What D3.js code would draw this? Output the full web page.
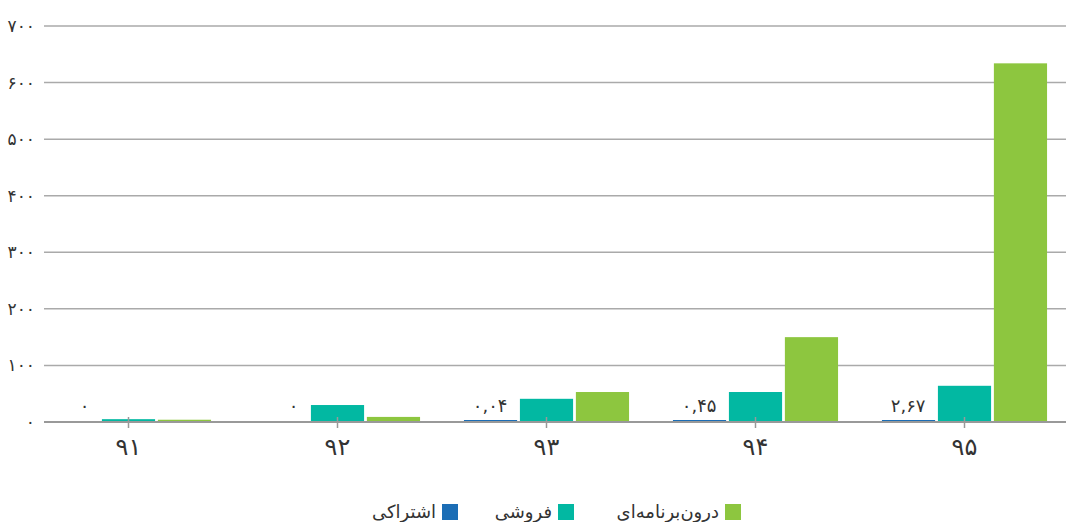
<!DOCTYPE html>
<html>
<head>
<meta charset="utf-8">
<script src="https://cdn.jsdelivr.net/npm/d3@7"></script>
<style>
  body { margin: 0; background: #fff; }
  text { font-family: "DejaVu Sans", "Noto Sans", sans-serif; fill: #333; }
</style>
</head>
<body>
<script>
// years (persian digits)
var years = ['۹۱', '۹۲', '۹۳', '۹۴', '۹۵'];
var seriesNames = ['اشتراکی', 'فروشی', 'درون‌برنامه‌ای'];
var subscription = [0, 0, 0.04, 0.45, 2.67];
var subscriptionLabels = ['۰', '۰', '۰,۰۴', '۰,۴۵', '۲,۶۷'];
var sales = [5, 30, 41, 53, 64];
var inApp = [4, 9, 53, 150, 634];
var yTicks = [0, 100, 200, 300, 400, 500, 600, 700];
var colors = ['#1b6db5', '#02b8a2', '#8dc63f'];

var toFa = function(n) {
    return String(n).replace(/\d/g, function(c) { return '۰۱۲۳۴۵۶۷۸۹'[+c]; });
};

var width = 1066, height = 522;

var svg = d3.select('body').append('svg')
    .attr('width', width)
    .attr('height', height);

var x = d3.scaleBand()
    .domain(years)
    .range([24, 1069])
    .paddingInner(0.21)
    .paddingOuter(0.105);

var xi = d3.scaleBand()
    .domain([0, 1, 2])
    .range([0, x.bandwidth()])
    .paddingInner(0.05);

var y = d3.scaleLinear()
    .domain([0, 700])
    .range([422, 26]);

// grid
svg.selectAll('line.grid')
    .data(yTicks.slice(1))
    .enter()
  .append('line')
    .attr('class', 'grid')
    .attr('x1', 44)
    .attr('x2', 1066)
    .attr('y1', d => y(d))
    .attr('y2', d => y(d))
    .attr('stroke', '#aaa')
    .attr('stroke-width', 1.5);

// y labels
svg.selectAll('text.ylab')
    .data(yTicks)
    .enter()
  .append('text')
    .attr('class', 'ylab')
    .attr('x', 35)
    .attr('y', d => y(d) + 6)
    .attr('text-anchor', 'end')
    .style('font-size', '17px')
    .text(d => toFa(d));

var series = [subscription, sales, inApp];

series.forEach(function(vals, si) {
    svg.selectAll('rect.s' + si)
        .data(vals)
        .enter()
      .append('rect')
        .attr('class', 's' + si)
        .attr('fill', colors[si])
        .attr('x', (d, i) => x(years[i]) + xi(si))
        .attr('width', xi.bandwidth())
        .attr('y', function(d) {
            if (d == 0) return y(0);
            return Math.min(y(d), y(0) - 2);
        })
        .attr('height', function(d) {
            if (d == 0) return 0;
            return Math.max(y(0) - y(d), 2);
        });
});

// baseline
svg.append('line')
    .attr('x1', 44)
    .attr('x2', 1066)
    .attr('y1', y(0))
    .attr('y2', y(0))
    .attr('stroke', '#999')
    .attr('stroke-width', 2);

// x ticks
svg.selectAll('line.xtick')
    .data(years)
    .enter()
  .append('line')
    .attr('class', 'xtick')
    .attr('x1', d => x(d) + x.bandwidth() / 2)
    .attr('x2', d => x(d) + x.bandwidth() / 2)
    .attr('y1', 417)
    .attr('y2', 428)
    .attr('stroke', '#999')
    .attr('stroke-width', 1.5);

svg.selectAll('text.xlab')
    .data(years)
    .enter()
  .append('text')
    .attr('class', 'xlab')
    .attr('x', d => x(d) + x.bandwidth() / 2)
    .attr('y', 455)
    .attr('text-anchor', 'middle')
    .style('font-size', '24px')
    .text(d => d);

// value labels for subscription bars
svg.selectAll('text.vlab')
    .data(subscriptionLabels)
    .enter()
  .append('text')
    .attr('class', 'vlab')
    .attr('x', (d, i) => x(years[i]) + xi(0) + xi.bandwidth() / 2 + 17)
    .attr('y', 412)
    .attr('text-anchor', 'end')
    .style('font-size', '18px')
    .text(d => d);

// legend (right to left)
var legendX = [741, 574, 458];
var legend = svg.selectAll('g.legend')
    .data([2, 1, 0])
    .enter()
  .append('g')
    .attr('class', 'legend')
    .attr('transform', (d, i) => 'translate(' + legendX[i] + ',0)');

legend.append('rect')
    .attr('x', -16)
    .attr('y', 504)
    .attr('width', 16)
    .attr('height', 16)
    .attr('fill', d => colors[d]);

legend.append('text')
    .attr('x', -22)
    .attr('y', 518)
    .attr('text-anchor', 'end')
    .style('font-size', '18px')
    .text(d => seriesNames[d]);
</script>
</body>
</html>
